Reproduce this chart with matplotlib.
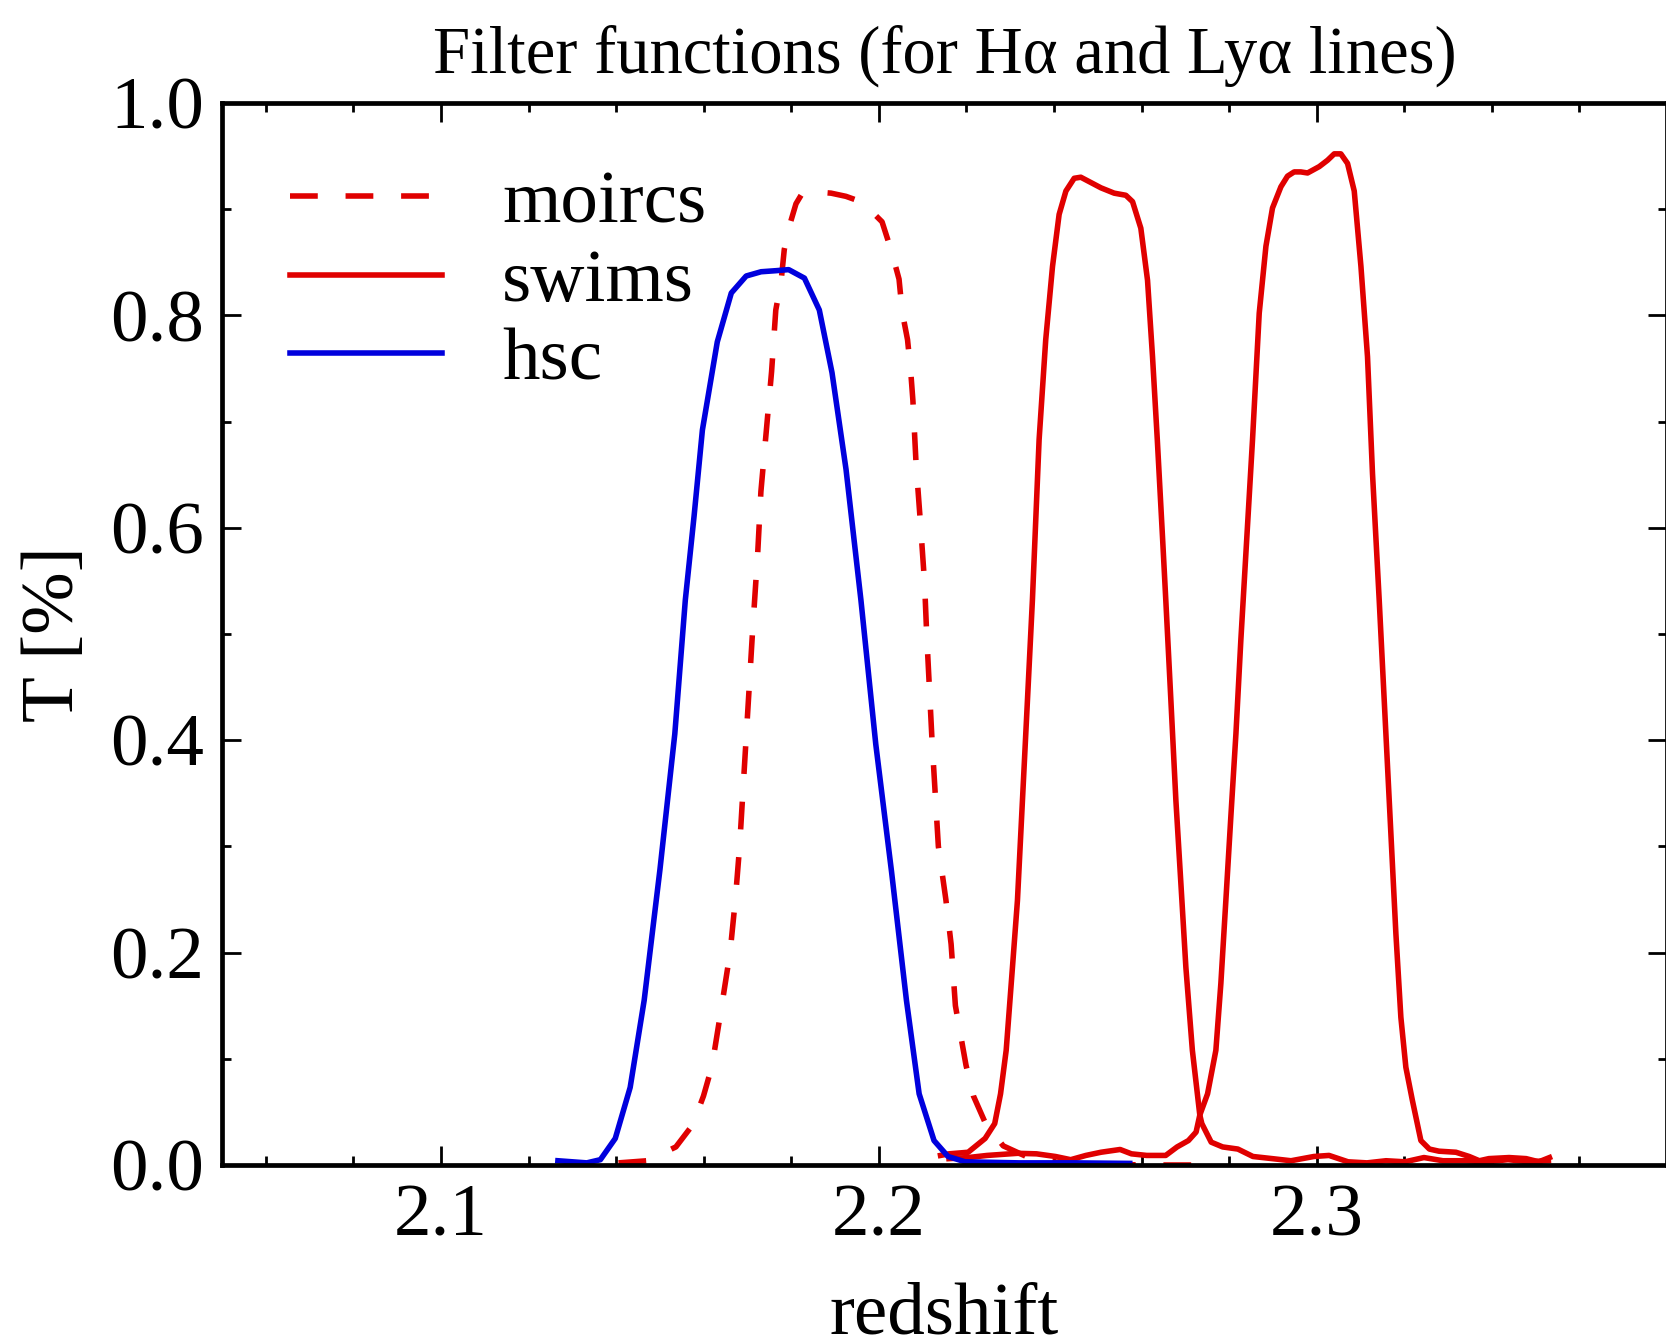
import matplotlib
matplotlib.use("Agg")
import matplotlib.pyplot as plt
from matplotlib.ticker import MultipleLocator

plt.rcParams['font.family'] = ['Liberation Serif', 'DejaVu Serif']

# moircs filter (dashed)
moircs_z = [2.14053, 2.14709, 2.15364, 2.15752, 2.15995, 2.16189, 2.16408, 2.16602,
            2.16723, 2.16820, 2.16966, 2.17112, 2.17233, 2.17306, 2.17427, 2.17550,
            2.17646, 2.17767, 2.17840, 2.17985, 2.18107, 2.18252, 2.18592, 2.18908,
            2.19248, 2.19587, 2.19854, 2.20073, 2.20291, 2.20461, 2.20534, 2.20655,
            2.20728, 2.20777, 2.20850, 2.20947, 2.21044, 2.21092, 2.21214, 2.21359,
            2.21530, 2.21650, 2.21748, 2.21869, 2.21990, 2.22160, 2.22427, 2.22840,
            2.23422, 2.23932, 2.24660, 2.26117, 2.27330]
moircs_t = [0.002, 0.004, 0.017, 0.038, 0.065, 0.093, 0.149, 0.200,
            0.250, 0.300, 0.400, 0.500, 0.576, 0.634, 0.690, 0.747,
            0.805, 0.832, 0.862, 0.888, 0.905, 0.915, 0.916, 0.915,
            0.912, 0.907, 0.897, 0.888, 0.860, 0.834, 0.803, 0.777,
            0.747, 0.720, 0.660, 0.606, 0.548, 0.500, 0.400, 0.300,
            0.250, 0.208, 0.150, 0.122, 0.094, 0.065, 0.040, 0.018,
            0.007, 0.003, 0.001, 0.000, 0.000]

# swims filter 1 (peak near z=2.25)
swims1_z = [2.21408, 2.21602, 2.22039, 2.22427, 2.22646, 2.22779, 2.22908, 2.23051,
            2.23165, 2.23279, 2.23393, 2.23507, 2.23660, 2.23811, 2.23966, 2.24117,
            2.24272, 2.24461, 2.24612, 2.25073, 2.25374, 2.25641, 2.25794, 2.25983,
            2.26136, 2.26250, 2.26359, 2.26481, 2.26553, 2.26670, 2.26784, 2.26898,
            2.27012, 2.27160, 2.27330, 2.27376, 2.27590, 2.27852, 2.28199, 2.28544,
            2.28981, 2.29413, 2.29935, 2.30282, 2.30716, 2.31148, 2.31583, 2.32015,
            2.32449, 2.32884, 2.33398, 2.33883, 2.34369, 2.34854, 2.35291]
swims1_t = [0.009, 0.0105, 0.012, 0.025, 0.039, 0.067, 0.108, 0.186,
            0.249, 0.343, 0.437, 0.532, 0.683, 0.777, 0.846, 0.895,
            0.917, 0.929, 0.930, 0.920, 0.915, 0.913, 0.907, 0.882,
            0.833, 0.761, 0.683, 0.589, 0.532, 0.437, 0.343, 0.265,
            0.186, 0.108, 0.047, 0.039, 0.0215, 0.017, 0.015, 0.008,
            0.006, 0.004, 0.008, 0.009, 0.003, 0.002, 0.004, 0.003,
            0.007, 0.004, 0.004, 0.003, 0.005, 0.003, 0.004]

# swims filter 2 (peak near z=2.30)
swims2_z = [2.21602, 2.22039, 2.22473, 2.23167, 2.23602, 2.24034, 2.24381, 2.24728,
            2.25073, 2.25510, 2.25769, 2.26117, 2.26551, 2.26811, 2.27070, 2.27245,
            2.27330, 2.27507, 2.27697, 2.27811, 2.27925, 2.28039, 2.28155, 2.28267,
            2.28534, 2.28687, 2.28840, 2.28990, 2.29182, 2.29333, 2.29485, 2.29636,
            2.29791, 2.30058, 2.30248, 2.30400, 2.30551, 2.30704, 2.30857, 2.31010,
            2.31160, 2.31274, 2.31427, 2.31580, 2.31694, 2.31808, 2.31922, 2.32036,
            2.32184, 2.32379, 2.32573, 2.32791, 2.33180, 2.33483, 2.33714, 2.33932,
            2.34393, 2.34782, 2.35073, 2.35316]
swims2_t = [0.006, 0.007, 0.009, 0.011, 0.0105, 0.008, 0.005, 0.009,
            0.012, 0.0146, 0.0105, 0.009, 0.009, 0.017, 0.023, 0.031,
            0.047, 0.067, 0.108, 0.171, 0.249, 0.328, 0.406, 0.494,
            0.683, 0.802, 0.865, 0.901, 0.921, 0.931, 0.935, 0.935,
            0.934, 0.940, 0.946, 0.952, 0.952, 0.943, 0.917, 0.846,
            0.761, 0.651, 0.532, 0.406, 0.312, 0.218, 0.139, 0.092,
            0.061, 0.023, 0.015, 0.013, 0.012, 0.008, 0.004, 0.006,
            0.007, 0.006, 0.003, 0.007]

# hsc filter
hsc_z = [2.1267, 2.1333, 2.1364, 2.1398, 2.1432, 2.1464, 2.1500, 2.1534,
         2.1558, 2.1578, 2.1597, 2.1631, 2.1663, 2.1697, 2.1731, 2.1765,
         2.1794, 2.1830, 2.1864, 2.1893, 2.1925, 2.1959, 2.1993, 2.2029,
         2.2063, 2.2092, 2.2126, 2.2158, 2.2197, 2.2320, 2.2442, 2.2573]
hsc_t = [0.004, 0.002, 0.005, 0.025, 0.073, 0.155, 0.278, 0.406,
         0.532, 0.611, 0.692, 0.775, 0.821, 0.837, 0.841, 0.842,
         0.843, 0.835, 0.805, 0.746, 0.655, 0.532, 0.396, 0.276,
         0.155, 0.067, 0.023, 0.008, 0.003, 0.002, 0.002, 0.0015]

red = '#e00000'
blue = '#0000dd'
lw = 2.0

fig = plt.figure(figsize=(8.33, 6.68), dpi=200)
ax = fig.add_axes([0.1333, 0.128, 0.8673, 0.795])

# plotting the filter curves
ax.plot(moircs_z, moircs_t, color=red, lw=lw, dashes=(5.0, 5.0), label='moircs')
ax.plot(swims1_z, swims1_t, color=red, lw=lw, label='swims')
ax.plot(swims2_z, swims2_t, color=red, lw=lw)
ax.plot(hsc_z, hsc_t, color=blue, lw=lw, label='hsc')

ax.set_xlim(2.05, 2.38)
ax.set_ylim(0.0, 1.0)
ax.xaxis.set_major_locator(MultipleLocator(0.1))
ax.xaxis.set_minor_locator(MultipleLocator(0.02))
ax.yaxis.set_major_locator(MultipleLocator(0.2))
ax.yaxis.set_minor_locator(MultipleLocator(0.1))
ax.xaxis.set_major_formatter(plt.FormatStrFormatter('%.1f'))
ax.yaxis.set_major_formatter(plt.FormatStrFormatter('%.1f'))

ax.tick_params(which='both', direction='in', top=True, right=True, labelsize=27)
ax.tick_params(which='major', length=6.8, width=1.0)
ax.tick_params(which='minor', length=3.3, width=1.0)
ax.tick_params(axis='x', which='major', pad=7)
ax.tick_params(axis='y', which='major', pad=6.5)
for s in ax.spines.values():
    s.set_linewidth(1.7)

# labels and title
ax.set_xlabel('redshift', fontsize=27, labelpad=11)
ax.set_ylabel('T [%]', fontsize=27, labelpad=7.5)
ax.set_title('Filter functions (for H\u03b1 and Ly\u03b1 lines)', fontsize=24, pad=11)

ax.legend(loc='upper left', bbox_to_anchor=(0.047, 0.937), frameon=False,
          fontsize=27, handlelength=2.03, handletextpad=0.8, labelspacing=0.135,
          borderpad=0, borderaxespad=0)

fig.savefig('out.png', dpi=200)
